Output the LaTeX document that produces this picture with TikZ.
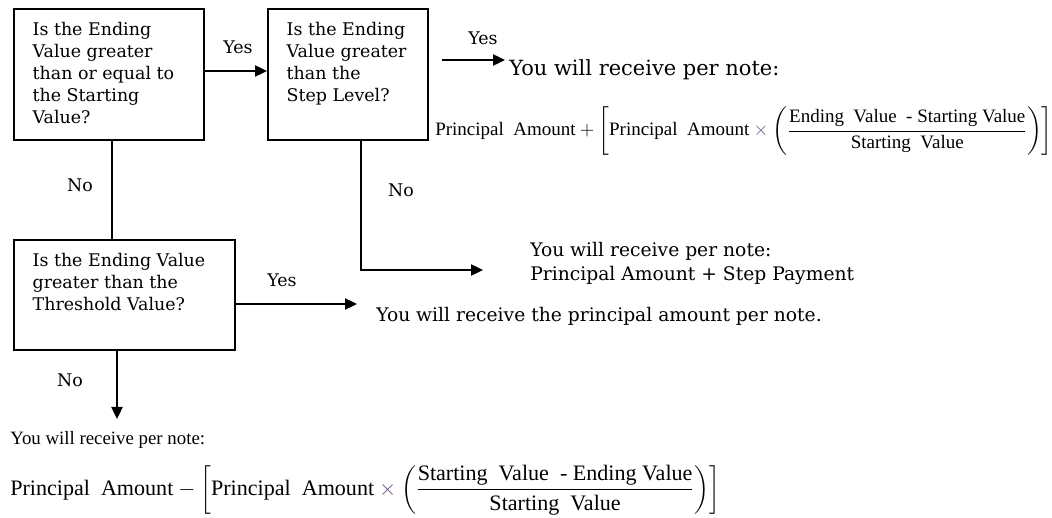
\documentclass[tikz,border=0pt]{standalone}
\usepackage{fix-cm}
\usepackage{amsmath}
\usepackage{fontspec}
\setmainfont{DejaVu Serif}
\newfontfamily\timesfont{Liberation Serif}
\usetikzlibrary{arrows.meta,positioning}

\definecolor{timescol}{RGB}{105,80,130}
\newcommand{\qtext}[3]{\parbox[c][#2][t]{#1}{\raggedright\leftskip=0.47cm\relax\vspace*{0.33cm}#3}}
\newcommand{\mult}{\mathbin{\textcolor{timescol}{\times}}}

\tikzset{
  qbox/.style={draw, line width=1.2pt, anchor=north west, inner sep=0pt,
    font=\fontsize{12.4}{15.6}\selectfont},
  arr/.style={line width=1.2pt, -{Triangle[length=0.3cm,width=0.28cm]}},
  lbl/.style={font=\fontsize{12.4}{14}\selectfont},
  outtext/.style={anchor=base west, inner sep=0pt, align=left,
    font=\fontsize{13.3}{17}\selectfont},
  fml/.style={anchor=west, inner sep=0pt, font=\timesfont\fontsize{13.5}{16}\selectfont},
}

\begin{document}
\begin{tikzpicture}[x=0.025cm, y=-0.025cm]
            \useasboundingbox (0,0) rectangle (1052,518);

            \def\xl{13}
            \def\xm{267}
            \def\yt{8}
            \def\yd{239}

            \node[qbox] (b1) at (\xl, \yt) {\qtext{4.75cm}{3.275cm}{Is the Ending\\Value greater\\than or equal to\\the Starting\\Value?}};
            \node[qbox] (b2) at (\xm, \yt) {\qtext{4cm}{3.275cm}{Is the Ending\\Value greater\\than the\\Step Level?}};
            \node[qbox] (b3) at (\xl, \yd) {\qtext{5.525cm}{2.75cm}{Is the Ending Value\\greater than the\\Threshold Value?}};

            \coordinate (s1) at (442, 60);
            \coordinate (t1) at (505, 60);
            \coordinate (t2) at (483, 270);
            \coordinate (t3) at (357, 304);
            \coordinate (t4) at (117, 419);

            \node[outtext, font=\fontsize{14.9}{17}\selectfont] (o1) at (509, 76) {You will receive per note:};
            \node[fml] (f1) at (435, 131) {$\text{Principal~~Amount} + \left[\text{Principal~~Amount} \mult \left(\dfrac{\text{Ending~~Value~~- Starting Value}}{\text{Starting~~Value}}\right)\right]$};

            \node[outtext] (o2) at (530, 280) {You will receive per note:\\Principal Amount + Step Payment};
            \node[outtext] (o3) at (376, 321) {You will receive the principal amount per note.};

            \node[outtext, font=\timesfont\fontsize{13.4}{16}\selectfont] (o4) at (10, 444) {You will receive per note:};
            \node[fml, font=\timesfont\fontsize{15.7}{18}\selectfont] (f4) at (10, 490) {$\text{Principal~~Amount} - \left[\text{Principal~~Amount} \mult \left(\dfrac{\text{Starting~~Value~~- Ending Value}}{\text{Starting~~Value}}\right)\right]$};

            \draw[arr] (b1.east |- 0,71) -- (b2.west |- 0,71);
            \node[lbl] at (238, 47) {Yes};
            \draw[arr] (s1) -- (t1);
            \node[lbl] at (483, 38) {Yes};

            \draw[line width=1.2pt] (b1.south -| 112,0) -- (b3.north -| 112,0);
            \node[lbl] at (80, 185) {No};

            \draw[arr] (b2.south -| 361,0) |- (t2);
            \node[lbl] at (401, 190) {No};

            \draw[arr] (b3.east |- 0,304) -- (t3);
            \node[lbl] at (282, 280) {Yes};

            \draw[arr] (b3.south -| t4) -- (t4);
            \node[lbl] at (70, 380) {No};

        \end{tikzpicture}
\end{document}
